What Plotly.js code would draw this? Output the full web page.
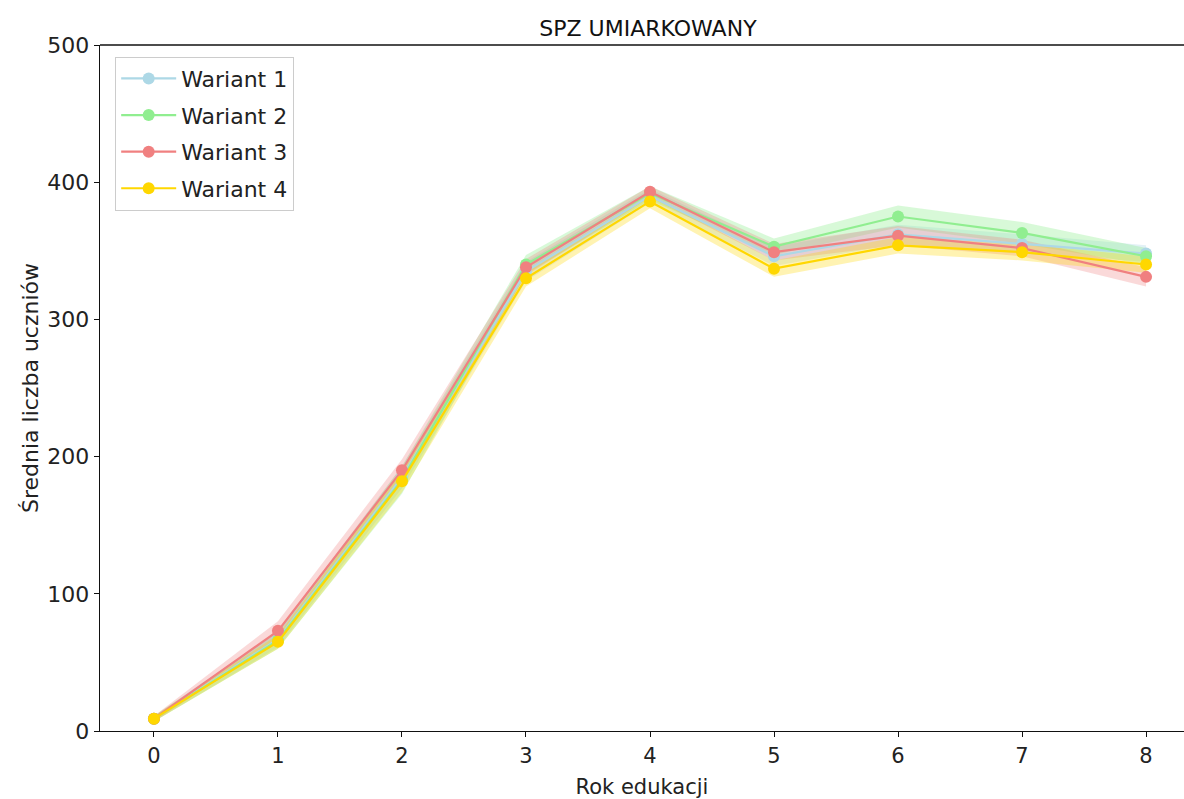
<!DOCTYPE html>
<html>
<head>
<meta charset="utf-8">
<script src="https://cdn.plot.ly/plotly-3.0.1.min.js"></script>
<style>html,body{margin:0;padding:0;background:#fff;}#chart{width:1184px;height:799px;}</style>
</head>
<body>
<div id="chart"></div>
<script>
const years = [0, 1, 2, 3, 4, 5, 6, 7, 8];
const seriesNames = ["Wariant 1", "Wariant 2", "Wariant 3", "Wariant 4"];
const wariant1 = [9, 67, 185, 335, 390, 346, 362, 355, 348];
const wariant2 = [9, 66, 183, 340, 392, 353, 375, 363, 346];
const wariant3 = [9, 73, 190, 338, 393, 349, 361, 352, 331];
const wariant4 = [9, 65, 182, 330, 386, 337, 354, 349, 340];
const sd1 = [2, 6, 8, 7, 5, 7, 7, 7, 6];
const sd2 = [2, 6, 10, 7, 5, 6, 8, 8, 6];
const sd3 = [2, 7, 8, 6, 4, 6, 7, 6, 7];
const sd4 = [2, 5, 8, 6, 5, 6, 6, 6, 6];
const lineColors = ["#add8e6", "#90ee90", "#f08080", "#ffd700"];
const bandColors = ["rgba(173,216,230,0.35)", "rgba(144,238,144,0.35)", "rgba(240,128,128,0.30)", "rgba(255,215,0,0.30)"];

const allVals = [wariant1, wariant2, wariant3, wariant4];
const allSd = [sd1, sd2, sd3, sd4];
const traces = [];
allVals.forEach((vals, i) => {
  const lo = vals.map((v, k) => v - allSd[i][k]);
  const hi = vals.map((v, k) => v + allSd[i][k]);
  traces.push({x: years, y: lo, mode: 'lines', line: {width: 0, color: bandColors[i]}, showlegend: false, hoverinfo: 'skip', legendgroup: 'b' + i});
  traces.push({x: years, y: hi, mode: 'lines', line: {width: 0, color: bandColors[i]}, fill: 'tonexty', fillcolor: bandColors[i], showlegend: false, hoverinfo: 'skip', legendgroup: 'b' + i});
});
allVals.forEach((vals, i) => {
  traces.push({x: years, y: vals, name: seriesNames[i], mode: 'lines+markers', legendgroup: 'g' + i,
    line: {color: lineColors[i], width: 2.2}, marker: {color: lineColors[i], size: 12}});
});

const fam = 'DejaVu Sans, sans-serif';
const layout = {
  width: 1184, height: 799,
  margin: {l: 100, r: 0, t: 45, b: 68},
  paper_bgcolor: '#fff', plot_bgcolor: '#fff',
  font: {family: fam, size: 20, color: '#222'},
  title: {text: 'SPZ UMIARKOWANY', font: {family: fam, size: 22, color: '#111'}, xref: 'paper', x: 0.5055, xanchor: 'center', y: 0.965, yanchor: 'middle'},
  xaxis: {
    range: [-0.435, 8.306], tickvals: years, ticktext: years.map(String),
    showgrid: false, zeroline: false, showline: true, linecolor: '#111', linewidth: 1.3,
    ticks: 'outside', ticklen: 5, tickcolor: '#111', tickfont: {family: fam, size: 21, color: '#222'},
    title: {text: 'Rok edukacji', font: {family: fam, size: 21, color: '#222'}, standoff: 12}
  },
  yaxis: {
    range: [0, 500], tickvals: [0, 100, 200, 300, 400, 500],
    showgrid: false, zeroline: false, showline: true, linecolor: '#111', linewidth: 1.3,
    ticks: 'outside', ticklen: 5, tickcolor: '#111', tickfont: {family: fam, size: 22, color: '#222'},
    title: {text: 'Średnia liczba uczniów', font: {family: fam, size: 22, color: '#222'}, standoff: 2}
  },
  shapes: [{type: 'line', xref: 'paper', yref: 'paper', x0: 0, x1: 1, y0: 1, y1: 1, line: {color: '#111', width: 1.3}}],
  legend: {x: 0.014, y: 0.983, xanchor: 'left', yanchor: 'top', bgcolor: 'rgba(255,255,255,0.8)',
    bordercolor: '#ccc', borderwidth: 1, font: {family: fam, size: 22, color: '#222'},
    traceorder: 'grouped', tracegroupgap: 5, itemwidth: 55}
};
Plotly.newPlot('chart', traces, layout, {displayModeBar: false, staticPlot: true});
</script>
</body>
</html>
